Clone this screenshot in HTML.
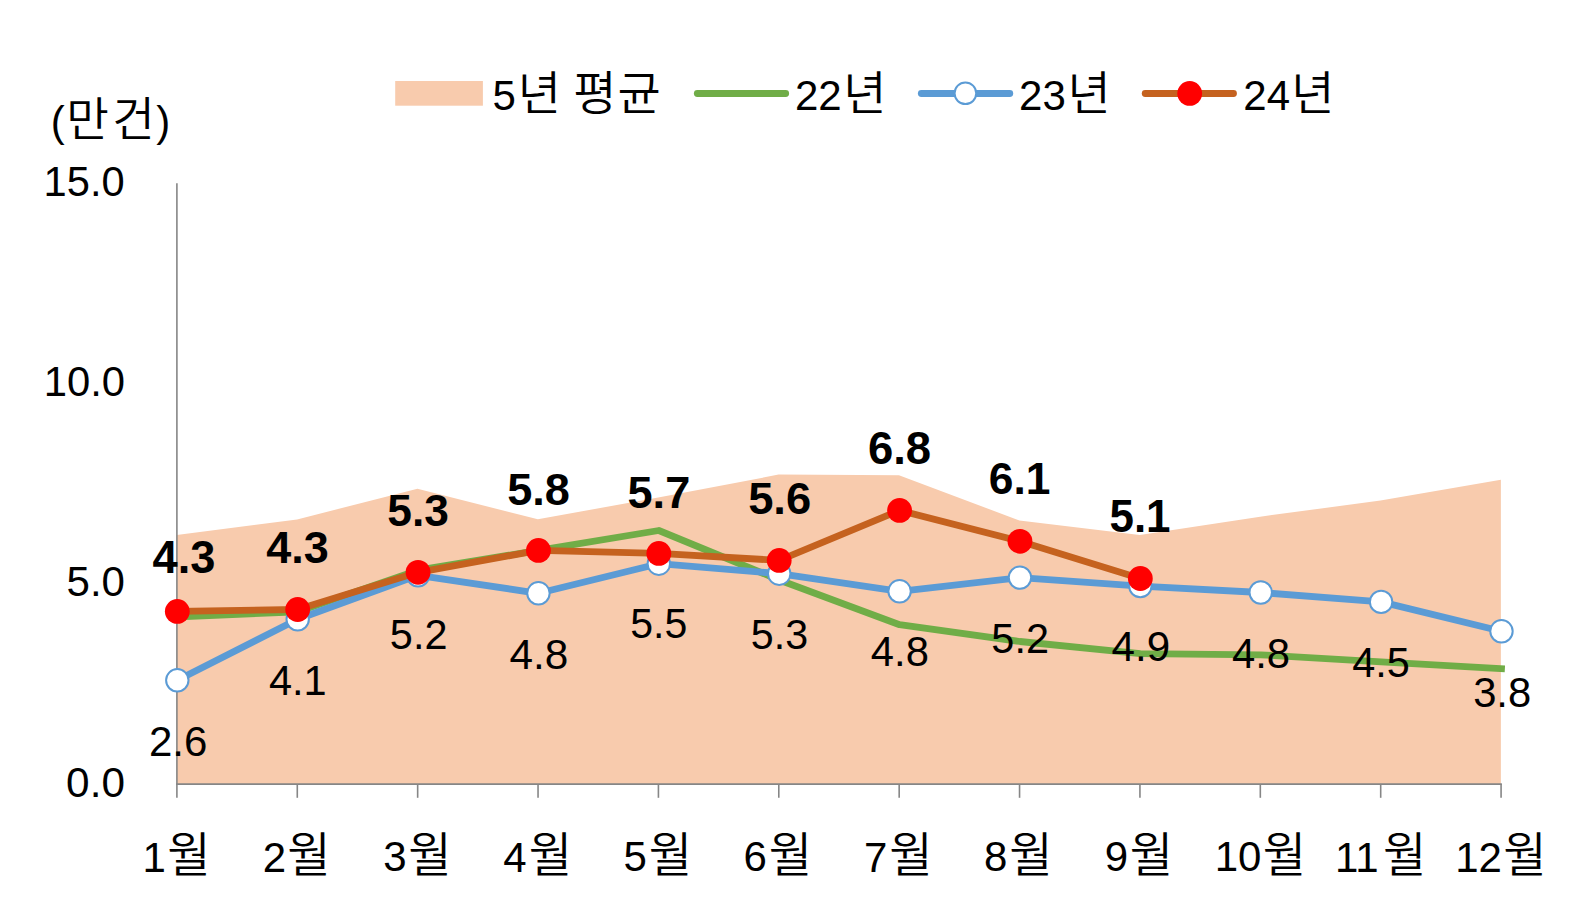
<!DOCTYPE html>
<html lang="ko"><head><meta charset="utf-8"><title>chart</title>
<style>html,body{margin:0;padding:0;background:#fff;overflow:hidden} svg{display:block}</style></head>
<body><svg width="1575" height="919" viewBox="0 0 1575 919">
<rect x="0" y="0" width="1575" height="919" fill="#FFFFFF"/>
<polygon points="176.70,784.1 176.70,534.9 297.08,519.4 417.46,488.8 537.84,519.3 658.22,497.5 778.60,474.6 898.98,475.2 1019.36,520.5 1139.74,535.0 1260.12,516.7 1380.50,500.5 1500.88,479.7 1500.88,784.1" fill="#F8CBAD"/>
<g stroke="#868686" stroke-width="1.6" fill="none">
<line x1="176.9" y1="183.3" x2="176.9" y2="797.8"/>
<line x1="176.1" y1="784.1" x2="1501.88" y2="784.1"/>
<line x1="297.28" y1="784.1" x2="297.28" y2="797.8"/>
<line x1="417.66" y1="784.1" x2="417.66" y2="797.8"/>
<line x1="538.04" y1="784.1" x2="538.04" y2="797.8"/>
<line x1="658.42" y1="784.1" x2="658.42" y2="797.8"/>
<line x1="778.80" y1="784.1" x2="778.80" y2="797.8"/>
<line x1="899.18" y1="784.1" x2="899.18" y2="797.8"/>
<line x1="1019.56" y1="784.1" x2="1019.56" y2="797.8"/>
<line x1="1139.94" y1="784.1" x2="1139.94" y2="797.8"/>
<line x1="1260.32" y1="784.1" x2="1260.32" y2="797.8"/>
<line x1="1380.70" y1="784.1" x2="1380.70" y2="797.8"/>
<line x1="1501.08" y1="784.1" x2="1501.08" y2="797.8"/>
</g>
<polyline points="177.30,617.0 297.68,611.8 418.06,570.2 538.44,550.3 658.82,530.5 779.20,580.0 899.58,624.7 1019.96,641.5 1140.34,653.6 1260.72,654.8 1381.10,661.9 1501.48,668.7" fill="none" stroke="#70AD47" stroke-width="6.8" stroke-linejoin="round" stroke-linecap="square"/>
<polyline points="177.30,680.3 297.68,619.3 418.06,575.3 538.44,593.3 658.82,563.7 779.20,573.7 899.58,591.3 1019.96,577.6 1140.34,586.1 1260.72,592.5 1381.10,601.9 1501.48,631.3" fill="none" stroke="#5B9BD5" stroke-width="6.8" stroke-linejoin="round" stroke-linecap="round"/>
<circle cx="177.30" cy="680.3" r="11.2" fill="#FFFFFF" stroke="#5B9BD5" stroke-width="2.0"/>
<circle cx="297.68" cy="619.3" r="11.2" fill="#FFFFFF" stroke="#5B9BD5" stroke-width="2.0"/>
<circle cx="418.06" cy="575.3" r="11.2" fill="#FFFFFF" stroke="#5B9BD5" stroke-width="2.0"/>
<circle cx="538.44" cy="593.3" r="11.2" fill="#FFFFFF" stroke="#5B9BD5" stroke-width="2.0"/>
<circle cx="658.82" cy="563.7" r="11.2" fill="#FFFFFF" stroke="#5B9BD5" stroke-width="2.0"/>
<circle cx="779.20" cy="573.7" r="11.2" fill="#FFFFFF" stroke="#5B9BD5" stroke-width="2.0"/>
<circle cx="899.58" cy="591.3" r="11.2" fill="#FFFFFF" stroke="#5B9BD5" stroke-width="2.0"/>
<circle cx="1019.96" cy="577.6" r="11.2" fill="#FFFFFF" stroke="#5B9BD5" stroke-width="2.0"/>
<circle cx="1140.34" cy="586.1" r="11.2" fill="#FFFFFF" stroke="#5B9BD5" stroke-width="2.0"/>
<circle cx="1260.72" cy="592.5" r="11.2" fill="#FFFFFF" stroke="#5B9BD5" stroke-width="2.0"/>
<circle cx="1381.10" cy="601.9" r="11.2" fill="#FFFFFF" stroke="#5B9BD5" stroke-width="2.0"/>
<circle cx="1501.48" cy="631.3" r="11.2" fill="#FFFFFF" stroke="#5B9BD5" stroke-width="2.0"/>
<polyline points="177.30,611.4 297.68,609.5 418.06,572.3 538.44,550.4 658.82,553.4 779.20,560.4 899.58,510.4 1019.96,541.3 1140.34,578.5" fill="none" stroke="#C5621F" stroke-width="6.8" stroke-linejoin="round" stroke-linecap="round"/>
<circle cx="177.30" cy="611.4" r="12.4" fill="#FF0000"/>
<circle cx="297.68" cy="609.5" r="12.4" fill="#FF0000"/>
<circle cx="418.06" cy="572.3" r="12.4" fill="#FF0000"/>
<circle cx="538.44" cy="550.4" r="12.4" fill="#FF0000"/>
<circle cx="658.82" cy="553.4" r="12.4" fill="#FF0000"/>
<circle cx="779.20" cy="560.4" r="12.4" fill="#FF0000"/>
<circle cx="899.58" cy="510.4" r="12.4" fill="#FF0000"/>
<circle cx="1019.96" cy="541.3" r="12.4" fill="#FF0000"/>
<circle cx="1140.34" cy="578.5" r="12.4" fill="#FF0000"/>
<rect x="395.2" y="81" width="87.7" height="24.7" fill="#F8CBAD"/>
<line x1="697.3" y1="93.5" x2="785.7" y2="93.5" stroke="#70AD47" stroke-width="6.8" stroke-linecap="round"/>
<line x1="921.3" y1="93.5" x2="1009.8" y2="93.5" stroke="#5B9BD5" stroke-width="6.8" stroke-linecap="round"/>
<circle cx="965.4" cy="93.3" r="10.799999999999999" fill="#FFFFFF" stroke="#5B9BD5" stroke-width="2.0"/>
<line x1="1145.2" y1="93.5" x2="1233.5" y2="93.5" stroke="#C5621F" stroke-width="6.8" stroke-linecap="round"/>
<circle cx="1189.7" cy="93.4" r="12.4" fill="#FF0000"/>
<g fill="#000000">
<text transform="translate(152.62 573.35) scale(0.9983 1)" font-family="'Liberation Sans', 'Noto Sans CJK KR', sans-serif" font-weight="700" font-size="45.30">4.3</text>
<text transform="translate(266.32 563.25) scale(0.9934 1)" font-family="'Liberation Sans', 'Noto Sans CJK KR', sans-serif" font-weight="700" font-size="45.30">4.3</text>
<text transform="translate(387.27 525.85) scale(0.9780 1)" font-family="'Liberation Sans', 'Noto Sans CJK KR', sans-serif" font-weight="700" font-size="45.30">5.3</text>
<text transform="translate(507.25 504.65) scale(0.9959 1)" font-family="'Liberation Sans', 'Noto Sans CJK KR', sans-serif" font-weight="700" font-size="45.30">5.8</text>
<text transform="translate(627.55 507.55) scale(0.9955 1)" font-family="'Liberation Sans', 'Noto Sans CJK KR', sans-serif" font-weight="700" font-size="45.30">5.7</text>
<text transform="translate(748.14 514.15) scale(1.0013 1)" font-family="'Liberation Sans', 'Noto Sans CJK KR', sans-serif" font-weight="700" font-size="45.30">5.6</text>
<text transform="translate(867.91 464.25) scale(1.0046 1)" font-family="'Liberation Sans', 'Noto Sans CJK KR', sans-serif" font-weight="700" font-size="45.30">6.8</text>
<text transform="translate(988.85 494.25) scale(0.9796 1)" font-family="'Liberation Sans', 'Noto Sans CJK KR', sans-serif" font-weight="700" font-size="45.30">6.1</text>
<text transform="translate(1109.48 532.05) scale(0.9693 1)" font-family="'Liberation Sans', 'Noto Sans CJK KR', sans-serif" font-weight="700" font-size="45.30">5.1</text>
<text transform="translate(148.90 756.48) scale(1.0002 1)" font-family="'Liberation Sans', 'Noto Sans CJK KR', sans-serif" font-weight="400" font-size="42.00">2.6</text>
<text transform="translate(268.96 695.00) scale(0.9886 1)" font-family="'Liberation Sans', 'Noto Sans CJK KR', sans-serif" font-weight="400" font-size="42.00">4.1</text>
<text transform="translate(389.84 649.48) scale(0.9872 1)" font-family="'Liberation Sans', 'Noto Sans CJK KR', sans-serif" font-weight="400" font-size="42.00">5.2</text>
<text transform="translate(509.54 668.98) scale(1.0083 1)" font-family="'Liberation Sans', 'Noto Sans CJK KR', sans-serif" font-weight="400" font-size="42.00">4.8</text>
<text transform="translate(630.26 637.98) scale(0.9778 1)" font-family="'Liberation Sans', 'Noto Sans CJK KR', sans-serif" font-weight="400" font-size="42.00">5.5</text>
<text transform="translate(750.75 648.78) scale(0.9816 1)" font-family="'Liberation Sans', 'Noto Sans CJK KR', sans-serif" font-weight="400" font-size="42.00">5.3</text>
<text transform="translate(870.86 666.48) scale(0.9939 1)" font-family="'Liberation Sans', 'Noto Sans CJK KR', sans-serif" font-weight="400" font-size="42.00">4.8</text>
<text transform="translate(991.34 652.58) scale(0.9872 1)" font-family="'Liberation Sans', 'Noto Sans CJK KR', sans-serif" font-weight="400" font-size="42.00">5.2</text>
<text transform="translate(1111.55 661.18) scale(1.0031 1)" font-family="'Liberation Sans', 'Noto Sans CJK KR', sans-serif" font-weight="400" font-size="42.00">4.9</text>
<text transform="translate(1231.95 667.78) scale(0.9957 1)" font-family="'Liberation Sans', 'Noto Sans CJK KR', sans-serif" font-weight="400" font-size="42.00">4.8</text>
<text transform="translate(1352.26 677.38) scale(0.9865 1)" font-family="'Liberation Sans', 'Noto Sans CJK KR', sans-serif" font-weight="400" font-size="42.00">4.5</text>
<text transform="translate(1473.13 706.78) scale(0.9943 1)" font-family="'Liberation Sans', 'Noto Sans CJK KR', sans-serif" font-weight="400" font-size="42.00">3.8</text>
<text transform="translate(43.57 195.78) scale(0.9927 1)" font-family="'Liberation Sans', 'Noto Sans CJK KR', sans-serif" font-weight="400" font-size="42.00">15.0</text>
<text transform="translate(43.66 395.98) scale(0.9953 1)" font-family="'Liberation Sans', 'Noto Sans CJK KR', sans-serif" font-weight="400" font-size="42.00">10.0</text>
<text transform="translate(66.52 596.48) scale(1.0015 1)" font-family="'Liberation Sans', 'Noto Sans CJK KR', sans-serif" font-weight="400" font-size="42.00">5.0</text>
<text transform="translate(66.11 796.88) scale(1.0087 1)" font-family="'Liberation Sans', 'Noto Sans CJK KR', sans-serif" font-weight="400" font-size="42.00">0.0</text>
<text font-family="'Liberation Sans', 'Noto Sans CJK KR', sans-serif" font-size="42.0"><tspan x="142.45" y="871.70">1</tspan><tspan x="167.23" y="871.73" font-size="47.2" font-weight="350">월</tspan></text>
<text font-family="'Liberation Sans', 'Noto Sans CJK KR', sans-serif" font-size="42.0"><tspan x="262.70" y="871.70">2</tspan><tspan x="287.33" y="871.73" font-size="47.2" font-weight="350">월</tspan></text>
<text font-family="'Liberation Sans', 'Noto Sans CJK KR', sans-serif" font-size="42.0"><tspan x="383.22" y="871.28">3</tspan><tspan x="408.13" y="871.73" font-size="47.2" font-weight="350">월</tspan></text>
<text font-family="'Liberation Sans', 'Noto Sans CJK KR', sans-serif" font-size="42.0"><tspan x="503.25" y="871.70">4</tspan><tspan x="528.63" y="871.73" font-size="47.2" font-weight="350">월</tspan></text>
<text font-family="'Liberation Sans', 'Noto Sans CJK KR', sans-serif" font-size="42.0"><tspan x="623.42" y="871.28">5</tspan><tspan x="648.63" y="871.73" font-size="47.2" font-weight="350">월</tspan></text>
<text font-family="'Liberation Sans', 'Noto Sans CJK KR', sans-serif" font-size="42.0"><tspan x="743.60" y="871.28">6</tspan><tspan x="768.63" y="871.73" font-size="47.2" font-weight="350">월</tspan></text>
<text font-family="'Liberation Sans', 'Noto Sans CJK KR', sans-serif" font-size="42.0"><tspan x="863.90" y="871.70">7</tspan><tspan x="889.33" y="871.73" font-size="47.2" font-weight="350">월</tspan></text>
<text font-family="'Liberation Sans', 'Noto Sans CJK KR', sans-serif" font-size="42.0"><tspan x="984.11" y="871.28">8</tspan><tspan x="1009.33" y="871.73" font-size="47.2" font-weight="350">월</tspan></text>
<text font-family="'Liberation Sans', 'Noto Sans CJK KR', sans-serif" font-size="42.0"><tspan x="1104.81" y="871.28">9</tspan><tspan x="1129.73" y="871.73" font-size="47.2" font-weight="350">월</tspan></text>
<text font-family="'Liberation Sans', 'Noto Sans CJK KR', sans-serif" font-size="42.0"><tspan x="1214.75" y="871.28">10</tspan><tspan x="1262.73" y="871.73" font-size="47.2" font-weight="350">월</tspan></text>
<text font-family="'Liberation Sans', 'Noto Sans CJK KR', sans-serif" font-size="42.0"><tspan x="1334.95" y="871.70">11</tspan><tspan x="1382.93" y="871.73" font-size="47.2" font-weight="350">월</tspan></text>
<text font-family="'Liberation Sans', 'Noto Sans CJK KR', sans-serif" font-size="42.0"><tspan x="1455.15" y="871.70">12</tspan><tspan x="1503.23" y="871.73" font-size="47.2" font-weight="350">월</tspan></text>
<text font-family="'Liberation Sans', 'Noto Sans CJK KR', sans-serif" font-size="42.0"><tspan x="492.42" y="109.88">5</tspan><tspan x="517.77" y="110.32" font-size="47.0" font-weight="350">년 </tspan><tspan x="573.31" y="110.32" font-size="47.0" font-weight="350">평</tspan><tspan x="617.55" y="110.32" font-size="47.0" font-weight="350">균</tspan></text>
<text font-family="'Liberation Sans', 'Noto Sans CJK KR', sans-serif" font-size="42.0"><tspan x="794.90" y="110.30">22</tspan><tspan x="843.37" y="110.32" font-size="47.0" font-weight="350">년</tspan></text>
<text font-family="'Liberation Sans', 'Noto Sans CJK KR', sans-serif" font-size="42.0"><tspan x="1019.10" y="109.88">23</tspan><tspan x="1067.57" y="110.32" font-size="47.0" font-weight="350">년</tspan></text>
<text font-family="'Liberation Sans', 'Noto Sans CJK KR', sans-serif" font-size="42.0"><tspan x="1243.30" y="110.30">24</tspan><tspan x="1291.37" y="110.32" font-size="47.0" font-weight="350">년</tspan></text>
<text font-family="'Liberation Sans', 'Noto Sans CJK KR', sans-serif" font-size="42.0"><tspan x="50.78" y="135.98">(</tspan><tspan x="66.33" y="136.45" font-size="46.3" font-weight="350">만</tspan><tspan x="112.19" y="136.45" font-size="46.3" font-weight="350">건</tspan><tspan x="156.26" y="135.98">)</tspan></text>
</g>
</svg></body></html>
